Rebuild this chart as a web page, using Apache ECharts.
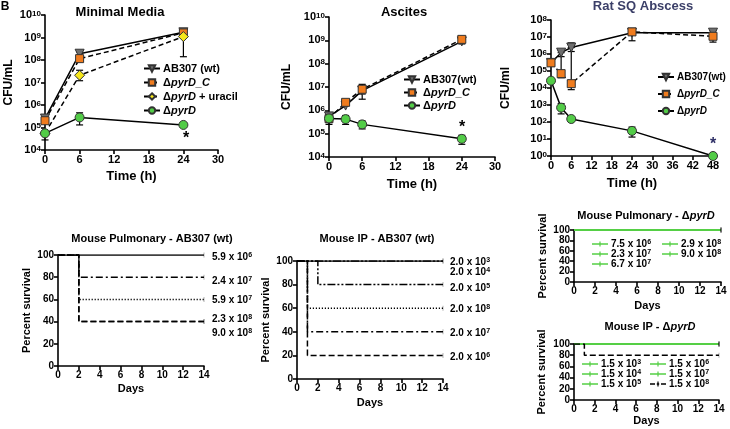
<!DOCTYPE html>
<html><head><meta charset="utf-8">
<script src="https://cdn.jsdelivr.net/npm/echarts@6/dist/echarts.min.js"></script>
<style>html,body{margin:0;padding:0;background:#fff}#c{width:730px;height:429px}</style>
</head><body><div id="c"></div>
<script>
const FONT = 'Liberation Sans, Arial, Helvetica, sans-serif';

// ---- Minimal Media ----
const mmTime = [0, 6, 24];
const mmWT   = [2.5e5, 1.9e8, 1.7e9];
const mmC    = [2.0e5, 1.15e8, 1.6e9];
const mmUra  = [5.5e4, 2.1e7, 1.1e9];
const mmPyr  = [5.5e4, 2.8e5, 1.3e5];
const mmWTErr  = [null, [1.5e8, 2.3e8], [1.3e9, 2.0e9]];
const mmCErr   = [[1.5e5, 2.8e5], [9e7, 1.4e8], [1.3e9, 1.9e9]];
const mmUraErr = [null, [1.2e7, 3.5e7], [1.4e8, 1.5e9]];
const mmPyrErr = [[2.8e4, 6e4], [1.3e5, 4.5e5], null];

// ---- Ascites ----
const ascTime = [0, 3, 6, 24];
const ascWT   = [5.5e5, 1.6e6, 7e6, 9e8];
const ascC    = [4.4e5, 2.2e6, 8e6, 1.1e9];
const ascPyr  = [4.5e5, 4.2e5, 2.5e5, 6e4];
const ascWTErr  = [null, null, [5e6, 1e7], [7e8, 1.1e9]];
const ascCErr   = [[2.5e5, 6e5], [1.6e6, 2.8e6], [3e6, 1.3e7], [8e8, 1.4e9]];
const ascPyrErr = [[3e5, 6e5], [2.5e5, 6e5], [1.6e5, 3.5e5], [3.5e4, 8.5e4]];

// ---- Rat SQ Abscess ----
const ratTime = [0, 3, 6, 24, 48];
const ratWT   = [3e5, 1.2e6, 2.4e6, 1.8e7, 1.8e7];
const ratC    = [3e5, 7e4, 1.8e4, 2e7, 1.1e7];
const ratPyr  = [2.7e4, 7e2, 1.5e2, 3e1, 1];
const ratWTErr  = [[2e5, 4e5], [7e5, 1.6e6], [1.4e6, 4.5e6], [6e6, 2.5e7], [1.3e7, 2.4e7]];
const ratCErr   = [[2e5, 4e5], [4e4, 1.2e6], [8e3, 2.4e6], [1.5e7, 2.5e7], [5e6, 1.6e7]];
const ratPyrErr = [[2e4, 3.5e4], [3e2, 1.2e3], null, [1.3e1, 5e1], null];

// ---- Survival: Mouse Pulmonary AB307 ----
const pulWTLabels = ['5.9 x 10^6', '2.4 x 10^7', '5.9 x 10^7', '2.3 x 10^8', '9.0 x 10^8'];
const pulWTDropDay = [null, 2, 2, 2, 2];
const pulWTFinal   = [100, 80, 60, 40, 40];
// ---- Survival: Mouse IP AB307 ----
const ipWTLabels = ['2.0 x 10^3', '2.0 x 10^4', '2.0 x 10^5', '2.0 x 10^8', '2.0 x 10^7', '2.0 x 10^6'];
const ipWTDropDay = [null, null, 2, 1, 1, 1];
const ipWTFinal   = [100, 100, 80, 60, 40, 20];
// ---- Survival: Mouse Pulmonary pyrD ----
const pulPyrLabels = ['7.5 x 10^6', '2.3 x 10^7', '6.7 x 10^7', '2.9 x 10^8', '9.0 x 10^8'];
const pulPyrDropDay = [null, null, null, null, null];
const pulPyrFinal   = [100, 100, 100, 100, 100];
// ---- Survival: Mouse IP pyrD ----
const ipPyrLabels = ['1.5 x 10^3', '1.5 x 10^4', '1.5 x 10^5', '1.5 x 10^6', '1.5 x 10^7', '1.5 x 10^8'];
const ipPyrDropDay = [null, null, null, null, null, 1];
const ipPyrFinal   = [100, 100, 100, 100, 100, 80];
const survEndDay = 14;

// ---------- helpers ----------
const zip = (t, v) => t.map((x, i) => [x, v[i]]);
const errData = (t, e) => t.map((x, i) => e[i] ? [x, e[i][0], e[i][1]] : null).filter(Boolean);
const supFmt = s => s.replace(/\^(\d+)/g, '{s|$1}');
const itFmt = s => s.replace(/pyrD(_C)?/g, '{i|$&}');
const survData = (drop, fin) => {
  const pts = drop == null ? [[0, 100], [survEndDay, fin]] : [[0, 100], [drop, fin], [survEndDay, fin]];
  return pts.map((p, i) => i === pts.length - 1 ? { value: p } : { value: p, symbol: 'none' });
};
const bold = (size, extra) => Object.assign({ fontFamily: FONT, fontWeight: 'bold', fontSize: size, color: '#000' }, extra || {});
const richSI = size => ({
  s: { fontFamily: FONT, fontWeight: 'bold', fontSize: Math.round(size * 0.7), verticalAlign: 'top', color: '#000' },
  i: { fontFamily: FONT, fontWeight: 'bold', fontStyle: 'italic', fontSize: size, color: '#000' }
});

function axisCommon(size) {
  return {
    axisLine: { show: true, onZero: false, lineStyle: { color: '#000', width: 1.6 } },
    axisTick: { show: true, length: 4, lineStyle: { color: '#000', width: 1.6 } },
    axisLabel: Object.assign(bold(size), { margin: 4, rich: richSI(size) }),
    splitLine: { show: false },
    minorTick: { show: false },
    nameLocation: 'middle',
    nameTextStyle: bold(size + 1)
  };
}
const logLabel = v => '10{s|' + Math.round(Math.log10(v)) + '}';

const grids = [
  { left: 45, top: 15, width: 173, height: 135 },
  { left: 329, top: 17, width: 166, height: 140 },
  { left: 551, top: 20, width: 162, height: 136 },
  { left: 58, top: 255, width: 146, height: 111 },
  { left: 297, top: 261, width: 146, height: 118 },
  { left: 574, top: 230, width: 147, height: 52 },
  { left: 574, top: 344, width: 145, height: 56 }
].map(g => Object.assign({ outerBoundsMode: 'none', containLabel: false }, g));

const xAxes = [
  Object.assign(axisCommon(11), { gridIndex: 0, type: 'value', min: 0, max: 30, interval: 6, name: 'Time (h)', nameGap: 20 }),
  Object.assign(axisCommon(11), { gridIndex: 1, type: 'value', min: 0, max: 30, interval: 6, name: 'Time (h)', nameGap: 21 }),
  Object.assign(axisCommon(11), { gridIndex: 2, type: 'value', min: 0, max: 48, interval: 6, name: 'Time (h)', nameGap: 21 }),
  Object.assign(axisCommon(10), { gridIndex: 3, type: 'value', min: 0, max: 14, interval: 2, name: 'Days', nameGap: 17 }),
  Object.assign(axisCommon(10), { gridIndex: 4, type: 'value', min: 0, max: 14, interval: 2, name: 'Days', nameGap: 18 }),
  Object.assign(axisCommon(10), { gridIndex: 5, type: 'value', min: 0, max: 14, interval: 2, name: 'Days', nameGap: 18 }),
  Object.assign(axisCommon(10), { gridIndex: 6, type: 'value', min: 0, max: 14, interval: 2, name: 'Days', nameGap: 15 })
];
const yAxes = [
  Object.assign(axisCommon(11), { gridIndex: 0, type: 'log', logBase: 10, min: 1e4, max: 1e10, splitNumber: 6, name: 'CFU/mL', nameGap: 30 }),
  Object.assign(axisCommon(11), { gridIndex: 1, type: 'log', logBase: 10, min: 1e4, max: 1e10, splitNumber: 6, name: 'CFU/mL', nameGap: 36 }),
  Object.assign(axisCommon(11), { gridIndex: 2, type: 'log', logBase: 10, min: 1, max: 1e8, splitNumber: 8, name: 'CFU/ml', nameGap: 39 }),
  Object.assign(axisCommon(10), { gridIndex: 3, type: 'value', min: 0, max: 100, interval: 20, name: 'Percent survival', nameGap: 26 }),
  Object.assign(axisCommon(10), { gridIndex: 4, type: 'value', min: 0, max: 100, interval: 20, name: 'Percent survival', nameGap: 26 }),
  Object.assign(axisCommon(10), { gridIndex: 5, type: 'value', min: 0, max: 100, interval: 20, name: 'Percent survival', nameGap: 26 }),
  Object.assign(axisCommon(10), { gridIndex: 6, type: 'value', min: 0, max: 100, interval: 20, name: 'Percent survival', nameGap: 27 })
];
[0, 1, 2].forEach(i => { yAxes[i].axisLabel.formatter = logLabel; });
[0, 1, 2].forEach(i => { yAxes[i].nameTextStyle = bold(12); xAxes[i].nameTextStyle = bold(13); });

const STY = {
  wt:  { symbol: 'triangle', symbolRotate: 180, symbolSize: 9, color: '#6e6e6e' },
  c:   { symbol: 'rect', symbolRotate: 0, symbolSize: 8, color: '#f07c1e' },
  ura: { symbol: 'diamond', symbolRotate: 0, symbolSize: 10, color: '#f6e71c' },
  pyr: { symbol: 'circle', symbolRotate: 0, symbolSize: 9, color: '#52cc47' }
};
function growth(name, gi, t, v, sty, dashed) {
  return {
    type: 'line', name, xAxisIndex: gi, yAxisIndex: gi, data: zip(t, v), z: 3,
    symbol: sty.symbol, symbolRotate: sty.symbolRotate, symbolSize: sty.symbolSize, showAllSymbol: true,
    itemStyle: { color: sty.color, borderColor: '#333', borderWidth: 1, opacity: 1 },
    lineStyle: { color: '#000', width: 1.5, type: dashed ? [5, 3] : 'solid' }
  };
}
function errRender(params, api) {
  const x = api.value(0);
  const lo = api.coord([x, api.value(1)]);
  const hi = api.coord([x, api.value(2)]);
  const cw = 3.5, st = { stroke: '#000', lineWidth: 1.2 };
  return { type: 'group', children: [
    { type: 'line', shape: { x1: lo[0], y1: lo[1], x2: hi[0], y2: hi[1] }, style: st },
    { type: 'line', shape: { x1: lo[0] - cw, y1: lo[1], x2: lo[0] + cw, y2: lo[1] }, style: st },
    { type: 'line', shape: { x1: hi[0] - cw, y1: hi[1], x2: hi[0] + cw, y2: hi[1] }, style: st }
  ] };
}
let errCount = 0;
function errSeries(gi, t, e) {
  errCount += 1;
  return { type: 'custom', name: 'err' + errCount, xAxisIndex: gi, yAxisIndex: gi, z: 2,
    data: errData(t, e), renderItem: errRender, encode: { x: 0, y: [1, 2] }, silent: true };
}

const DASH = { solid: 'solid', dashdot: [7, 3, 2, 3], dotted: [1.2, 1.8], dashed: [6, 3], dashdotdot: [8, 2, 2, 2, 2, 2] };
const CENSOR = 'path://M0 0H2V10H0Z';
const GREEN = '#55cf45';
function surv(gi, labels, drops, finals, styles, colors, widths) {
  return labels.map((lab, i) => ({
    type: 'line', name: lab, xAxisIndex: gi, yAxisIndex: gi, step: 'end', z: 3,
    data: survData(drops[i], finals[i]),
    symbol: CENSOR, symbolKeepAspect: true, symbolSize: [1.5, 5], showAllSymbol: true,
    itemStyle: { color: '#000' },
    lineStyle: { color: colors[i], width: widths[i], type: DASH[styles[i]] }
  }));
}
const ipPyrColors = [GREEN, GREEN, GREEN, GREEN, GREEN, '#000'];
const ipPyrStyles = ['solid', 'solid', 'solid', 'solid', 'solid', 'dashed'];

const series = [
  errSeries(0, mmTime, mmWTErr), errSeries(0, mmTime, mmCErr), errSeries(0, mmTime, mmUraErr), errSeries(0, mmTime, mmPyrErr),
  growth('AB307 (wt)', 0, mmTime, mmWT, STY.wt, false),
  growth('ΔpyrD_C', 0, mmTime, mmC, STY.c, true),
  growth('ΔpyrD + uracil', 0, mmTime, mmUra, STY.ura, true),
  growth('ΔpyrD', 0, mmTime, mmPyr, STY.pyr, false),

  errSeries(1, ascTime, ascWTErr), errSeries(1, ascTime, ascCErr), errSeries(1, ascTime, ascPyrErr),
  growth('AB307(wt)', 1, ascTime, ascWT, STY.wt, false),
  growth('ΔpyrD_C', 1, ascTime, ascC, STY.c, true),
  growth('ΔpyrD', 1, ascTime, ascPyr, STY.pyr, false),

  errSeries(2, ratTime, ratWTErr), errSeries(2, ratTime, ratCErr), errSeries(2, ratTime, ratPyrErr),
  growth('AB307(wt)', 2, ratTime, ratWT, STY.wt, false),
  growth('ΔpyrD_C', 2, ratTime, ratC, STY.c, true),
  growth('ΔpyrD', 2, ratTime, ratPyr, STY.pyr, false),

  ...surv(3, pulWTLabels, pulWTDropDay, pulWTFinal, ['solid', 'dashdot', 'dotted', 'dashed', 'dashed'],
          Array(5).fill('#000'), Array(5).fill(1.5)),
  ...surv(4, ipWTLabels, ipWTDropDay, ipWTFinal, ['solid', 'dashdotdot', 'dashdotdot', 'dotted', 'dashdot', 'dashed'],
          Array(6).fill('#000'), Array(6).fill(1.5)),
  ...surv(5, pulPyrLabels, pulPyrDropDay, pulPyrFinal, Array(5).fill('solid'),
          Array(5).fill(GREEN), Array(5).fill(2)),
  ...surv(6, ipPyrLabels, ipPyrDropDay, ipPyrFinal, ipPyrStyles, ipPyrColors, [2, 2, 2, 2, 2, 1.5])
];

function legend(data, left, top, gap, size, fmt, iw, ih) {
  return {
    data, left, top, orient: 'vertical', itemGap: gap, itemWidth: iw || 16, itemHeight: ih || 8,
    padding: 0, selectedMode: false,
    textStyle: Object.assign(bold(size), { rich: richSI(size), padding: [0, 0, 0, -2] }),
    formatter: fmt
  };
}
const ICON_SOLID = 'path://M0 17H160V33H0Z M74 0H86V50H74Z';
const ICON_DASH = 'path://M0 17H50V33H0Z M68 17H92V33H68Z M110 17H160V33H110Z M74 0H86V50H74Z';
const survLegendItem = (name, color, style) => ({ name, icon: style === 'dashed' ? ICON_DASH : ICON_SOLID, itemStyle: { color } });
const pulPyrItems = pulPyrLabels.map(n => survLegendItem(n, GREEN, 'solid'));
const ipPyrItems = ipPyrLabels.map((n, i) => survLegendItem(n, ipPyrColors[i], ipPyrStyles[i]));

const legends = [
  legend(['AB307 (wt)', 'ΔpyrD_C', 'ΔpyrD + uracil', 'ΔpyrD'], 143, 63, 3, 11, itFmt),
  legend(['AB307(wt)', 'ΔpyrD_C', 'ΔpyrD'], 403, 74, 2, 11, itFmt),
  legend(['AB307(wt)', 'ΔpyrD_C', 'ΔpyrD'], 657, 72, 7, 10, itFmt),
  legend(pulPyrItems.slice(0, 3), 592, 239, 0, 10, supFmt, 16, 5),
  legend(pulPyrItems.slice(3), 662, 239, 0, 10, supFmt, 16, 5),
  legend(ipPyrItems.slice(0, 3), 582, 359, 0, 10, supFmt, 16, 5),
  legend(ipPyrItems.slice(3), 650, 359, 0, 10, supFmt, 16, 5)
];

function txt(text, x, y, size, opts) {
  opts = opts || {};
  return { type: 'text', x, y, z: 100, silent: true,
    style: { text, fontFamily: FONT, fontWeight: 'bold', fontSize: size, fill: opts.fill || '#000',
      textAlign: opts.align || 'center', textVerticalAlign: 'middle', rich: richSI(size) } };
}
const graphics = [
  txt('B', 5, 7, 12),
  txt('Minimal Media', 120, 12, 13),
  txt('Ascites', 404, 12, 13),
  txt('Rat SQ Abscess', 643, 6, 13, { fill: '#3b3f68' }),
  txt('Mouse Pulmonary - AB307 (wt)', 152, 239, 11),
  txt('Mouse IP - AB307 (wt)', 377, 239, 11),
  txt(itFmt('Mouse Pulmonary - ΔpyrD'), 646, 216, 11),
  txt(itFmt('Mouse IP - ΔpyrD'), 650, 327, 11),
  txt('*', 186, 139, 16),
  txt('*', 462, 128, 16),
  txt('*', 713, 145, 16, { fill: '#2e2f66' })
];
const pulLabelY = [257, 281, 300, 319, 333];
pulWTLabels.forEach((l, i) => graphics.push(txt(supFmt(l), 212, pulLabelY[i], 10, { align: 'left' })));
const ipLabelY = [262, 272, 288, 309, 333, 357];
ipWTLabels.forEach((l, i) => graphics.push(txt(supFmt(l), 450, ipLabelY[i], 10, { align: 'left' })));

const chart = echarts.init(document.getElementById('c'), null, { renderer: 'canvas' });
chart.setOption({
  animation: false,
  backgroundColor: '#fff',
  grid: grids, xAxis: xAxes, yAxis: yAxes,
  legend: legends, series, graphic: graphics
});
</script></body></html>
